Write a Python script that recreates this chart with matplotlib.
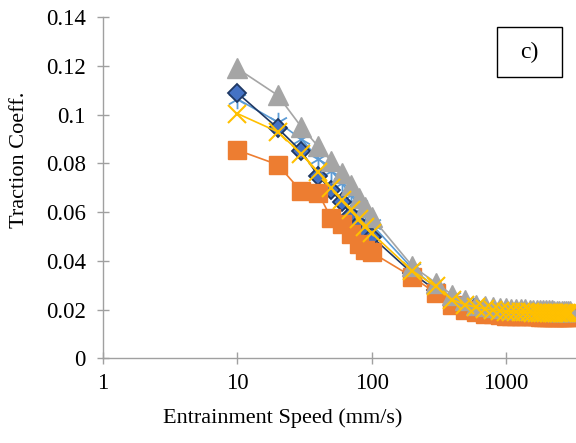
import matplotlib
matplotlib.use("Agg")
import matplotlib.pyplot as plt
from matplotlib.path import Path
from matplotlib.patches import Rectangle
from matplotlib.ticker import FixedLocator, FuncFormatter, NullLocator

plt.rcParams["font.family"] = ["Liberation Serif", "DejaVu Serif"]

# entrainment speed (mm/s)
speed = [10, 20, 30, 40, 50, 60, 70, 80, 90, 100,
         200, 300, 400, 500, 600, 700, 800, 900, 1000,
         1100, 1200, 1300, 1400, 1500, 1600, 1700, 1800, 1900, 2000,
         2100, 2200, 2300, 2400, 2500, 2600, 2700, 2800, 2900, 3000]

# traction coefficient, one list per series
diamond = [0.109, 0.0945, 0.085, 0.075, 0.069, 0.064, 0.059, 0.055, 0.052, 0.050,
           0.035, 0.028, 0.024, 0.022, 0.021, 0.020, 0.0195, 0.019, 0.0188,
           0.0187, 0.0187, 0.0186, 0.0186, 0.0185, 0.0185, 0.0184, 0.0184, 0.0184, 0.0183,
           0.0183, 0.0183, 0.0183, 0.0182, 0.0182, 0.0182, 0.0182, 0.0182, 0.0181, 0.0181]
square = [0.0855, 0.0795, 0.0685, 0.068, 0.0575, 0.055, 0.051, 0.047, 0.0445, 0.0435,
          0.0335, 0.0268, 0.022, 0.020, 0.019, 0.0183, 0.018, 0.0178, 0.0175,
          0.0174, 0.0174, 0.0173, 0.0173, 0.0172, 0.0172, 0.0172, 0.0171, 0.0171, 0.0171,
          0.0171, 0.0170, 0.0170, 0.0170, 0.0170, 0.0170, 0.0170, 0.0170, 0.0170, 0.0170]
triangle = [0.119, 0.108, 0.095, 0.087, 0.081, 0.076, 0.071, 0.066, 0.062, 0.058,
            0.038, 0.031, 0.026, 0.024, 0.022, 0.0215, 0.021, 0.0207, 0.0205,
            0.0204, 0.0203, 0.0202, 0.0201, 0.0200, 0.0200, 0.0199, 0.0199, 0.0198, 0.0198,
            0.0197, 0.0197, 0.0196, 0.0196, 0.0196, 0.0195, 0.0195, 0.0195, 0.0194, 0.0194]
cross = [0.1005, 0.093, 0.084, 0.0765, 0.070, 0.065, 0.061, 0.057, 0.054, 0.0515,
         0.036, 0.0295, 0.024, 0.022, 0.021, 0.0203, 0.0198, 0.0195, 0.0192,
         0.0191, 0.0190, 0.0190, 0.0189, 0.0189, 0.0188, 0.0188, 0.0187, 0.0187, 0.0187,
         0.0186, 0.0186, 0.0186, 0.0185, 0.0185, 0.0185, 0.0185, 0.0184, 0.0184, 0.0184]
star = [0.1065, 0.097, 0.090, 0.082, 0.077, 0.072, 0.067, 0.063, 0.059, 0.055,
        0.037, 0.029, 0.025, 0.023, 0.0215, 0.0205, 0.020, 0.0196, 0.0193,
        0.0192, 0.0191, 0.0190, 0.0190, 0.0189, 0.0189, 0.0188, 0.0188, 0.0187, 0.0187,
        0.0187, 0.0186, 0.0186, 0.0186, 0.0186, 0.0185, 0.0185, 0.0185, 0.0185, 0.0185]

y_ticks = [0, 0.02, 0.04, 0.06, 0.08, 0.1, 0.12, 0.14]
x_ticks = [1, 10, 100, 1000]

# excel style asterisk: vertical bar plus an x
asterisk = Path([(0, -1), (0, 1), (-0.87, -0.5), (0.87, 0.5), (-0.87, 0.5), (0.87, -0.5)],
                [Path.MOVETO, Path.LINETO, Path.MOVETO, Path.LINETO, Path.MOVETO, Path.LINETO])

fig = plt.figure(figsize=(5.76, 4.43), dpi=100)
ax = fig.add_axes([0.1788, 0.1912, 0.8194, 0.7697])

ax.plot(speed, star, color="#5B9BD5", lw=1.2, marker=asterisk, ms=14,
        mfc="none", mec="#5B9BD5", mew=1.3, zorder=2)
ax.plot(speed, diamond, color="#1F3864", lw=1.2, marker="D", ms=9.5,
        mfc="#4472C4", mec="#1F3864", mew=1.3, zorder=3)
ax.plot(speed, square, color="#ED7D31", lw=1.2, marker="s", ms=13.5,
        mfc="#ED7D31", mec="#ED7D31", zorder=4)
ax.plot(speed, triangle, color="#A5A5A5", lw=1.2, marker="^", ms=14,
        mfc="#A5A5A5", mec="#A5A5A5", zorder=5)
ax.plot(speed, cross, color="#FFC000", lw=1.2, marker="x", ms=13,
        mec="#FFC000", mew=1.5, zorder=6)

ax.set_xscale("log")
ax.set_xlim(1, 3270)
ax.set_ylim(0, 0.14)
ax.xaxis.set_major_locator(FixedLocator(x_ticks))
ax.xaxis.set_minor_locator(NullLocator())
ax.xaxis.set_major_formatter(FuncFormatter(lambda v, p: f"{v:g}"))
ax.yaxis.set_major_locator(FixedLocator(y_ticks))
ax.yaxis.set_major_formatter(FuncFormatter(lambda v, p: f"{v:g}"))

for s in ["top", "right"]:
    ax.spines[s].set_visible(False)
for s in ["left", "bottom"]:
    ax.spines[s].set_color("#A0A0A0")
    ax.spines[s].set_linewidth(1.0)
    ax.spines[s].set_zorder(1)

ax.tick_params(axis="both", direction="inout", length=9, width=1.0,
               color="#A0A0A0", labelsize=16.5, labelcolor="black")
ax.tick_params(axis="y", pad=8)
ax.tick_params(axis="x", pad=6)

fig.text(0.491, 0.0564, "Entrainment Speed (mm/s)", ha="center", va="center", fontsize=16)
fig.text(0.0347, 0.639, "Traction Coeff.", ha="center", va="center", rotation=90, fontsize=16)

fig.patches.append(Rectangle((0.8628, 0.8262), 0.1128, 0.1129, transform=fig.transFigure,
                             fill=False, edgecolor="black", linewidth=1.0))
fig.text(0.9184, 0.8826, "c)", ha="center", va="center", fontsize=17)

fig.savefig("out.png", dpi=100)
